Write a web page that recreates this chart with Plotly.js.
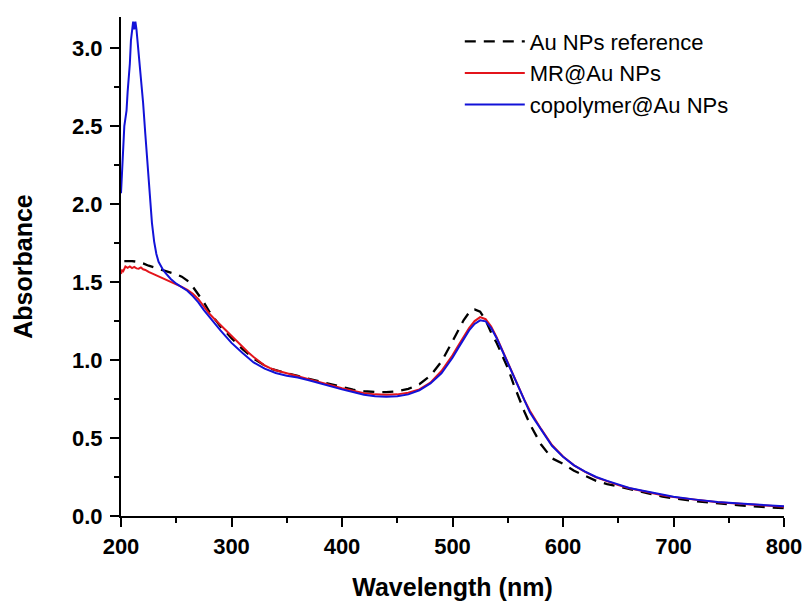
<!DOCTYPE html>
<html>
<head>
<meta charset="utf-8">
<script src="https://cdn.plot.ly/plotly-3.0.1.min.js"></script>
<style>html,body{margin:0;padding:0;background:#fff;}#chart{width:806px;height:601px;}</style>
</head>
<body>
<div id="chart"></div>
<script>
// Au NPs reference (dashed)
var refWl = [203,210,215,220,225,230,235,240,245,250,255,260,265,270,275,280,285,290,295,300,310,320,330,335,340,350,360,370,380,390,400,410,420,430,440,450,460,470,480,490,500,505,510,515,518,520,525,530,535,540,545,550,555,560,565,570,575,580,590,600,610,620,630,640,650,660,670,680,690,700,720,740,760,780,800];
var refAbs = [1.635,1.635,1.63,1.62,1.605,1.595,1.58,1.57,1.56,1.55,1.535,1.51,1.47,1.42,1.37,1.31,1.26,1.215,1.18,1.14,1.07,1.01,0.965,0.945,0.935,0.915,0.898,0.88,0.862,0.842,0.825,0.81,0.80,0.795,0.795,0.80,0.815,0.845,0.90,0.99,1.12,1.19,1.255,1.305,1.325,1.325,1.31,1.255,1.175,1.11,1.035,0.95,0.85,0.755,0.67,0.59,0.52,0.46,0.37,0.335,0.29,0.255,0.225,0.205,0.188,0.17,0.155,0.14,0.125,0.113,0.095,0.08,0.068,0.058,0.05];

// MR@Au NPs (red)
var mrWl = [200,201,202,203,204,206,208,210,212,214,216,218,220,222,225,230,235,240,245,250,255,260,265,270,275,280,285,290,295,300,305,310,315,320,325,330,335,340,350,360,370,380,390,400,410,420,430,440,450,460,470,480,490,500,505,510,515,520,525,530,535,540,545,550,555,560,565,570,575,580,590,600,610,620,630,640,650,660,670,680,690,700,720,740,760,780,800];
var mrAbs = [1.553,1.575,1.57,1.59,1.60,1.592,1.60,1.59,1.597,1.588,1.586,1.594,1.582,1.578,1.565,1.55,1.535,1.515,1.50,1.487,1.47,1.45,1.425,1.39,1.345,1.297,1.26,1.225,1.19,1.15,1.115,1.083,1.05,1.02,0.99,0.965,0.948,0.935,0.915,0.895,0.878,0.858,0.838,0.82,0.803,0.788,0.78,0.777,0.78,0.79,0.812,0.855,0.93,1.03,1.09,1.15,1.205,1.25,1.275,1.262,1.215,1.145,1.065,0.985,0.90,0.82,0.745,0.675,0.615,0.56,0.455,0.382,0.325,0.283,0.248,0.222,0.198,0.178,0.162,0.148,0.133,0.121,0.103,0.088,0.078,0.068,0.06];

// copolymer@Au NPs (blue)
var coWl = [200,201,202,203,204,205,206,207,208,209,210,211,212,213,214,215,216,218,220,222,224,226,228,230,232,234,236,238,240,245,250,255,260,265,270,275,280,285,290,295,300,310,320,330,340,350,360,370,380,390,400,410,420,430,440,450,460,470,480,490,500,505,510,515,520,525,530,535,540,545,550,555,560,565,570,575,580,590,600,610,620,630,640,650,660,670,680,690,700,720,740,760,780,800];
var coAbs = [2.07,2.25,2.40,2.50,2.55,2.60,2.72,2.80,2.90,3.05,3.14,3.17,3.12,3.17,3.12,3.05,2.97,2.82,2.65,2.45,2.25,2.05,1.88,1.76,1.68,1.63,1.60,1.58,1.56,1.52,1.49,1.47,1.445,1.41,1.37,1.32,1.275,1.23,1.19,1.15,1.11,1.045,0.985,0.945,0.917,0.90,0.888,0.87,0.85,0.832,0.812,0.795,0.777,0.768,0.765,0.768,0.78,0.806,0.85,0.915,1.015,1.075,1.135,1.19,1.232,1.255,1.248,1.205,1.14,1.06,0.98,0.90,0.815,0.735,0.665,0.61,0.555,0.45,0.38,0.325,0.285,0.25,0.225,0.2,0.18,0.165,0.15,0.135,0.123,0.105,0.09,0.08,0.07,0.062];

var seriesNames = ['Au NPs reference', 'MR@Au NPs', 'copolymer@Au NPs'];
var xTickVals = [200,300,400,500,600,700,800];
var yTickVals = [0,0.5,1.0,1.5,2.0,2.5,3.0];

var traces = [
  {x: refWl, y: refAbs, name: seriesNames[0], mode: 'lines', line: {color: '#000000', width: 2.3, dash: '11px,8px'}},
  {x: mrWl, y: mrAbs, name: seriesNames[1], mode: 'lines', line: {color: '#e3141b', width: 2}},
  {x: coWl, y: coAbs, name: seriesNames[2], mode: 'lines', line: {color: '#1212d8', width: 2}}
];

var font = "Liberation Sans, Arial, sans-serif";
var layout = {
  width: 806, height: 601,
  margin: {l: 121, r: 22, t: 17, b: 85},
  paper_bgcolor: '#ffffff', plot_bgcolor: '#ffffff',
  font: {family: font, color: '#000000'},
  showlegend: true,
  legend: {
    x: 0.511, xanchor: 'left', y: 0.993, yanchor: 'top',
    bgcolor: 'rgba(0,0,0,0)', borderwidth: 0,
    font: {family: font, size: 22, color: '#000000'},
    itemwidth: 60, tracegroupgap: 0
  },
  xaxis: {
    range: [200, 800], showgrid: false, zeroline: false,
    showline: true, linecolor: '#000000', linewidth: 2, mirror: false,
    ticks: 'outside', ticklen: 9, tickwidth: 2, tickcolor: '#000000',
    tickmode: 'array', tickvals: xTickVals, ticktext: xTickVals.map(String),
    ticklabelstandoff: 1,
    tickfont: {family: font, size: 22, color: '#000000', weight: 'bold'},
    minor: {dtick: 50, tick0: 200, ticks: 'outside', ticklen: 5, tickwidth: 2, tickcolor: '#000000', showgrid: false},
    title: {text: 'Wavelength (nm)', font: {family: font, size: 25, color: '#000000', weight: 'bold'}, standoff: 27}
  },
  yaxis: {
    range: [0, 3.2], showgrid: false, zeroline: false,
    showline: true, linecolor: '#000000', linewidth: 2, mirror: false,
    ticks: 'outside', ticklen: 9, tickwidth: 2, tickcolor: '#000000',
    tickmode: 'array', tickvals: yTickVals, ticktext: yTickVals.map(function(v){return v.toFixed(1);}),
    ticklabelstandoff: 3,
    tickfont: {family: font, size: 22, color: '#000000', weight: 'bold'},
    minor: {dtick: 0.25, tick0: 0, ticks: 'outside', ticklen: 5, tickwidth: 2, tickcolor: '#000000', showgrid: false},
    title: {text: 'Absorbance', font: {family: font, size: 25, color: '#000000', weight: 'bold'}, standoff: 32}
  }
};

Plotly.newPlot('chart', traces, layout, {staticPlot: true, displayModeBar: false});
</script>
</body>
</html>
